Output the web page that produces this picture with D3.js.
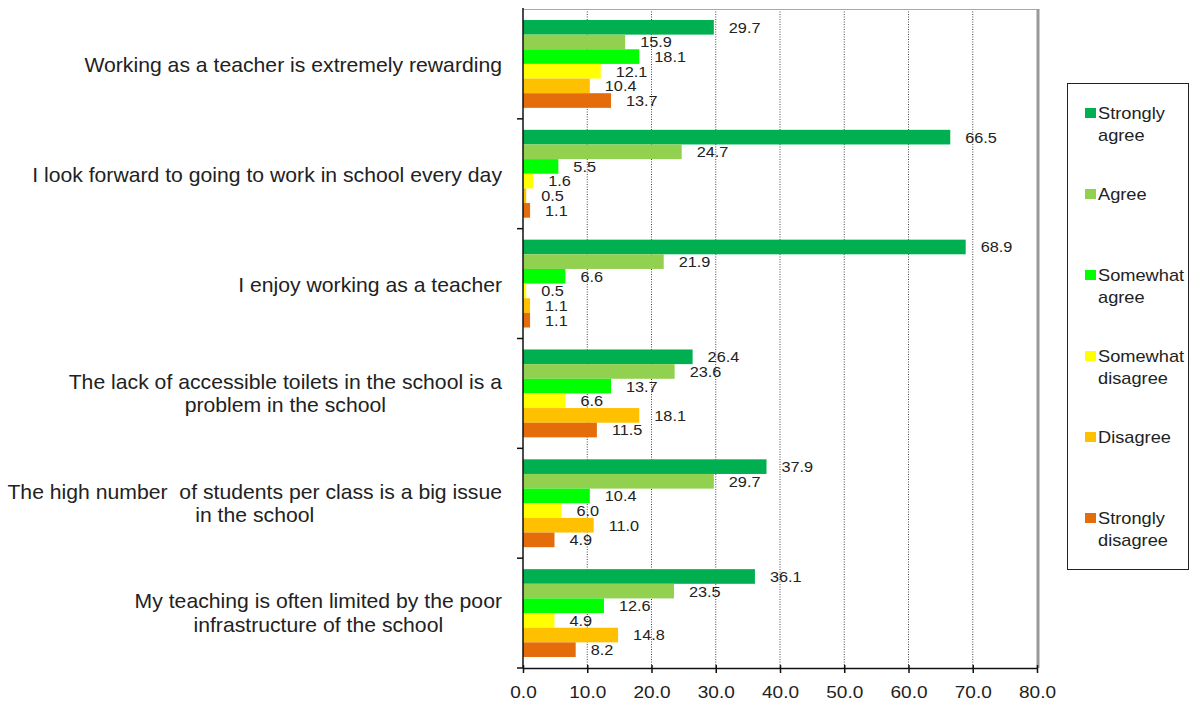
<!DOCTYPE html>
<html>
<head>
<meta charset="utf-8">
<script src="https://cdn.jsdelivr.net/npm/d3@7"></script>
<style>
  html, body { margin: 0; padding: 0; background: #fff; }
  svg { display: block; }
  text { font-family: "Liberation Sans", Arial, sans-serif; fill: #222; white-space: pre; }
</style>
</head>
<body>
<svg id="chart" width="1193" height="702"></svg>
<script>
// Statements (one bar group each), possibly wrapped onto two lines
const statements = [
  ["Working as a teacher is extremely rewarding"],
  ["I look forward to going to work in school every day"],
  ["I enjoy working as a teacher"],
  ["The lack of accessible toilets in the school is a", "problem in the school"],
  ["The high number  of students per class is a big issue", "in the school"],
  ["My teaching is often limited by the poor", "infrastructure of the school"]
];

// Response categories (legend order / bar order inside each group)
const responses = [
  ["Strongly", "agree"],
  ["Agree"],
  ["Somewhat", "agree"],
  ["Somewhat", "disagree"],
  ["Disagree"],
  ["Strongly", "disagree"]
];
const responseColors = ["#00B050", "#92D050", "#00FF00", "#FFFF00", "#FFC000", "#E46C0A"];

// Percentages per response, one value per statement
const stronglyAgree    = [29.7, 66.5, 68.9, 26.4, 37.9, 36.1];
const agree            = [15.9, 24.7, 21.9, 23.6, 29.7, 23.5];
const somewhatAgree    = [18.1,  5.5,  6.6, 13.7, 10.4, 12.6];
const somewhatDisagree = [12.1,  1.6,  0.5,  6.6,  6.0,  4.9];
const disagree         = [10.4,  0.5,  1.1, 18.1, 11.0, 14.8];
const stronglyDisagree = [13.7,  1.1,  1.1, 11.5,  4.9,  8.2];

const xTicks = [0, 10, 20, 30, 40, 50, 60, 70, 80];

const seriesValues = [stronglyAgree, agree, somewhatAgree, somewhatDisagree, disagree, stronglyDisagree];
const rows = [];
statements.forEach((s, i) => {
  seriesValues.forEach((vals, j) => rows.push({ cat: i, series: j, value: vals[i] }));
});

const svg = d3.select("#chart");
const plotLeft = 523, plotRight = 1037, plotTop = 9, plotBottom = 668;

const x = d3.scaleLinear().domain([0, 80]).range([plotLeft, plotRight]);
const y = d3.scaleBand().domain(d3.range(statements.length)).range([plotTop, plotBottom]).paddingInner(0).paddingOuter(0);
const yInner = d3.scaleBand().domain(d3.range(responses.length)).range([0, y.bandwidth()]).paddingInner(0).paddingOuter(0.75);

const fmt = d3.format(".1f");

// Horizontally widened text, placed inside a translated group
function wideText(parent, px, py, sx, size, anchor) {
  return parent.append("g")
    .attr("transform", `translate(${px},${py})`)
    .append("text")
    .attr("transform", `scale(${sx},1)`)
    .attr("font-size", size)
    .attr("text-anchor", anchor)
    .attr("dy", "0.35em");
}

// Dotted vertical gridlines
svg.append("g").selectAll("line")
  .data(xTicks.filter(t => t > 0 && t < 80))
  .join("line")
  .attr("x1", d => x(d)).attr("x2", d => x(d))
  .attr("y1", plotTop).attr("y2", plotBottom)
  .attr("stroke", "#444").attr("stroke-width", 1)
  .attr("stroke-dasharray", "1,1.5");

// Plot frame: top and right edges
svg.append("line").attr("x1", plotLeft).attr("x2", plotRight).attr("y1", plotTop + 0.5).attr("y2", plotTop + 0.5)
  .attr("stroke", "#aaa").attr("stroke-width", 1);
svg.append("line").attr("x1", plotRight + 1).attr("x2", plotRight + 1).attr("y1", plotTop).attr("y2", plotBottom)
  .attr("stroke", "#999").attr("stroke-width", 3);

// Bars
svg.append("g").selectAll("rect")
  .data(rows)
  .join("rect")
  .attr("x", x(0))
  .attr("y", d => y(d.cat) + yInner(d.series))
  .attr("width", d => x(d.value) - x(0))
  .attr("height", yInner.bandwidth())
  .attr("fill", d => responseColors[d.series]);

// Value labels
const valG = svg.append("g");
rows.forEach(d => {
  wideText(valG, x(d.value) + 15, y(d.cat) + yInner(d.series) + yInner.bandwidth() / 2, 1.05, 15.5, "start")
    .text(fmt(d.value));
});

// X axis
const xAxis = svg.append("g")
  .attr("transform", `translate(0,${plotBottom})`)
  .call(d3.axisBottom(x).tickValues(xTicks).tickFormat(fmt).tickSizeInner(5).tickSizeOuter(0));
xAxis.select(".domain").attr("stroke", "#111").attr("stroke-width", 1.5);
xAxis.selectAll(".tick line").attr("y1", -3).attr("y2", 5).attr("stroke", "#111").attr("stroke-width", 1.5);
xAxis.selectAll(".tick text")
  .attr("y", 24).attr("dy", "0.35em")
  .attr("font-size", 17)
  .attr("transform", "scale(1.12,1)")
  .attr("font-family", "Liberation Sans, Arial, sans-serif")
  .attr("fill", "#222");

// Y axis line and boundary ticks
svg.append("line").attr("x1", plotLeft).attr("x2", plotLeft).attr("y1", plotTop - 1).attr("y2", plotBottom)
  .attr("stroke", "#111").attr("stroke-width", 1.5);
const bounds = d3.range(1, statements.length).map(i => y(i)).concat([plotBottom]);
svg.append("g").selectAll("line")
  .data(bounds)
  .join("line")
  .attr("x1", plotLeft - 6).attr("x2", plotLeft)
  .attr("y1", d => d).attr("y2", d => d)
  .attr("stroke", "#111").attr("stroke-width", 1.5);

// Statement labels: widest line right-aligned, lines centred on each other
const catG = svg.append("g");
const catSize = 20, catSx = 1.06, catLine = 23.5, catRight = 502;
statements.forEach((lines, i) => {
  const cy = y(i) + y.bandwidth() / 2 + (lines.length === 1 ? 1.5 : 0);
  const placed = lines.map((ln, k) => {
    const ty = cy + (k - (lines.length - 1) / 2) * catLine;
    const t = wideText(catG, 0, ty, catSx, catSize, "middle").text(ln);
    return { t, ty };
  });
  const maxW = d3.max(placed, p => p.t.node().getComputedTextLength()) * catSx;
  placed.forEach(p => {
    d3.select(p.t.node().parentNode).attr("transform", `translate(${catRight - maxW / 2},${p.ty})`);
  });
});

// Legend
const legend = svg.append("g");
legend.append("rect")
  .attr("x", 1067.5).attr("y", 83.5).attr("width", 121).attr("height", 486)
  .attr("fill", "#fff").attr("stroke", "#222").attr("stroke-width", 1);
const legTop = 113, legStep = 81, legLine = 22.5;
responses.forEach((lines, j) => {
  const cy = legTop + j * legStep;
  legend.append("rect")
    .attr("x", 1085).attr("y", cy - 5).attr("width", 11).attr("height", 10)
    .attr("fill", responseColors[j]);
  lines.forEach((ln, k) => {
    wideText(legend, 1098, cy + k * legLine, 1.14, 16, "start").text(ln);
  });
});
</script>
</body>
</html>
